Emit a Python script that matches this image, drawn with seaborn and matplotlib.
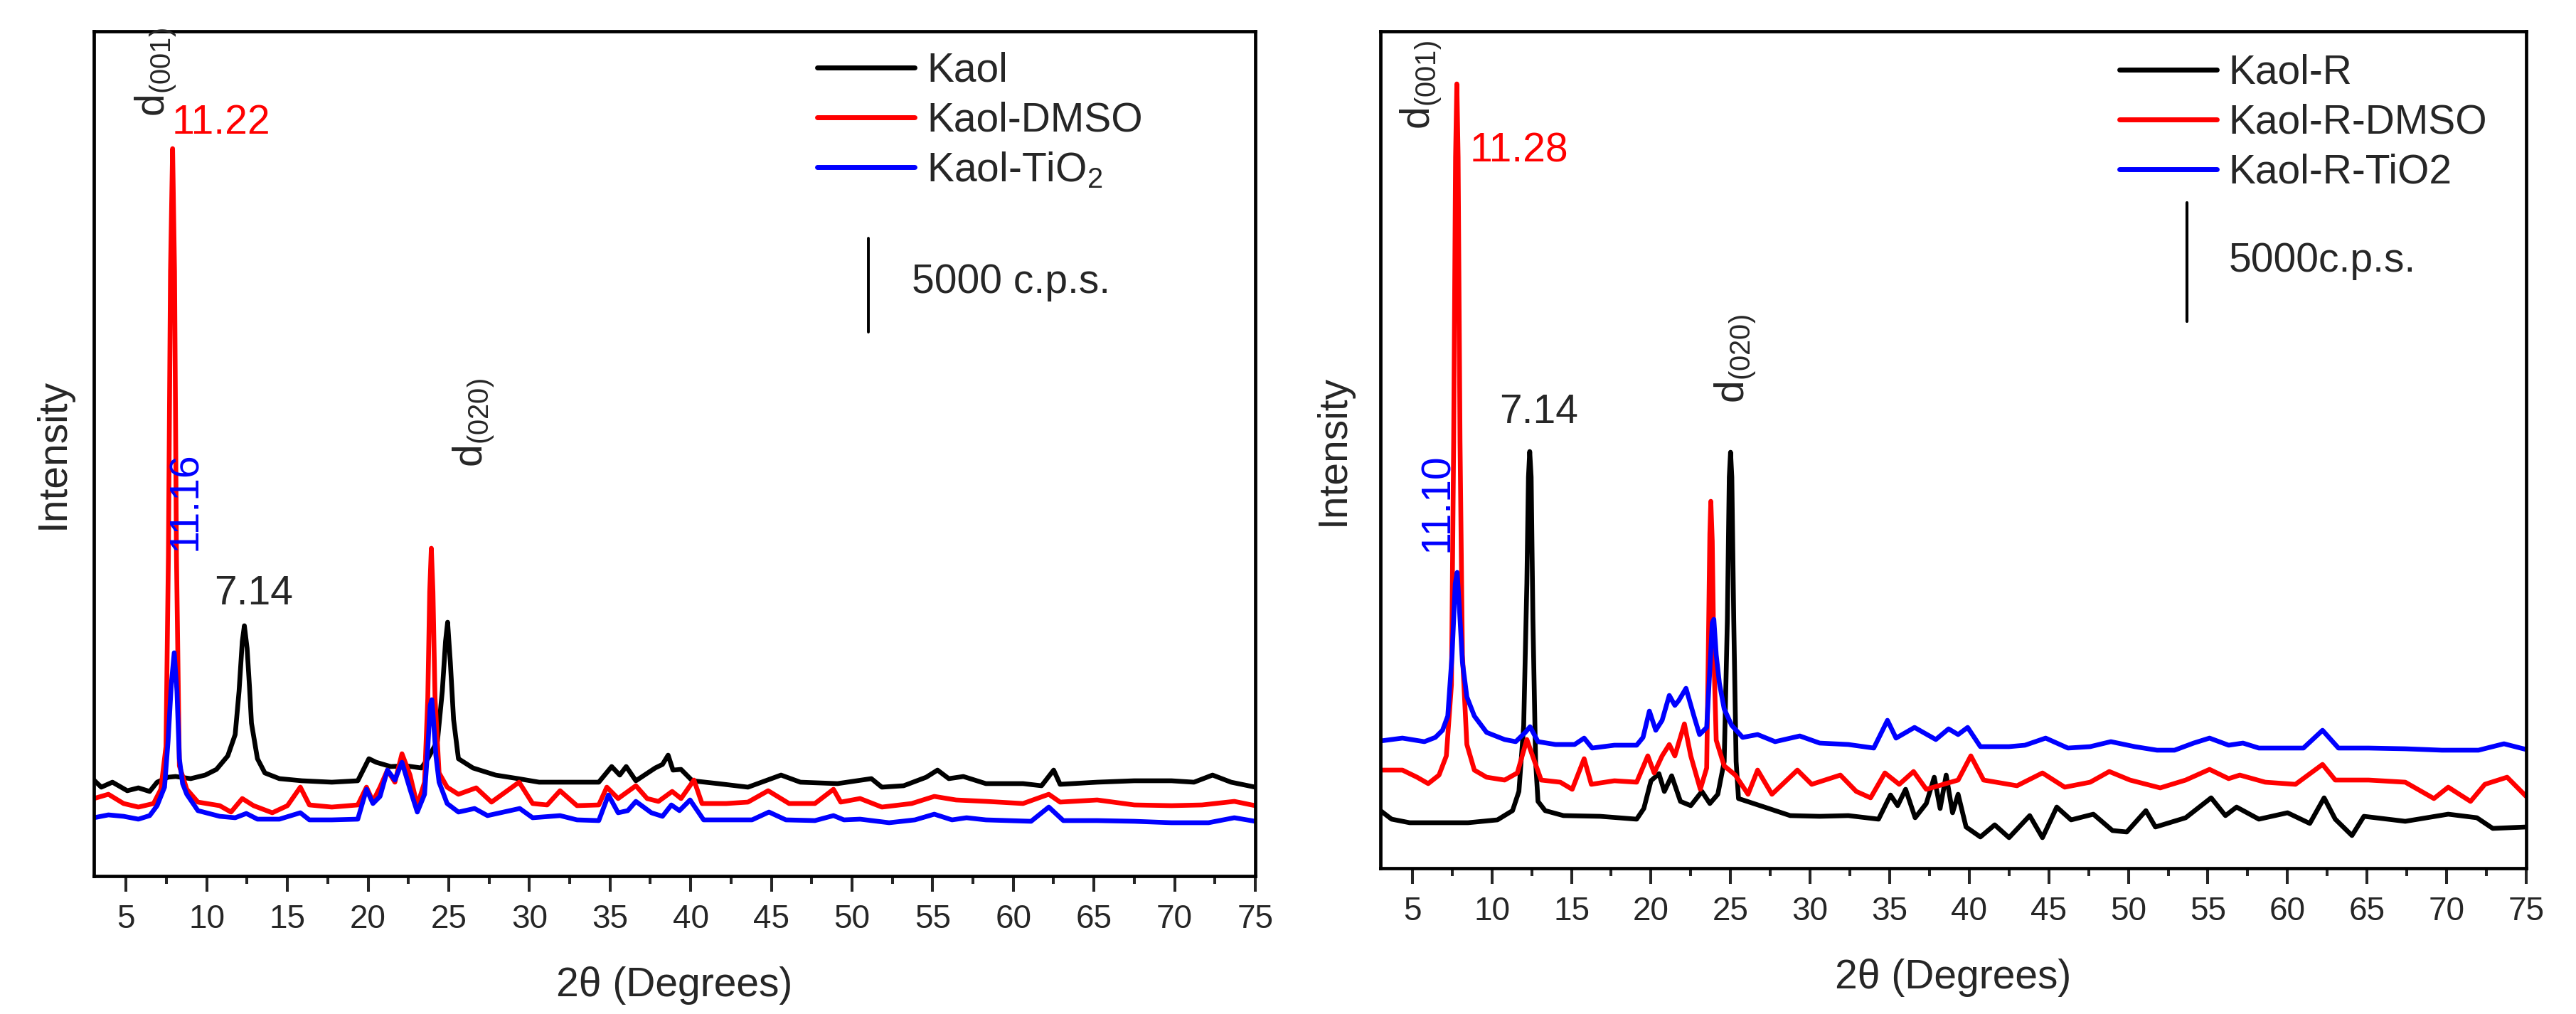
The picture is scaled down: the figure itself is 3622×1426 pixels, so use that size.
import numpy as np
import pandas as pd
import seaborn as sns
import matplotlib
matplotlib.use("Agg")
import matplotlib.pyplot as plt
from matplotlib.lines import Line2D
from matplotlib.ticker import MultipleLocator

# ---------------- data (intensity in arbitrary units) ----------------
# Left panel
kaol_x = [3.0, 3.46, 4.15, 5.07, 5.76, 6.46, 6.92, 7.6, 8.07, 9.0, 9.9, 10.6, 11.3, 11.76, 12.0, 12.2, 12.33,
          12.5, 12.65, 12.77, 13.14, 13.6, 14.5, 15.9, 17.75, 19.36, 20.05, 20.5, 21.4, 22.35, 23.3, 23.7, 24.3,
          24.6, 24.8, 24.93, 25.1, 25.3, 25.6, 26.5, 27.9, 29.3, 30.6, 32.5, 34.3, 35.1, 35.6, 36.0, 36.6, 37.8,
          38.25, 38.6, 38.9, 39.4, 40.1, 41.7, 43.55, 45.6, 46.8, 49.1, 51.2, 51.85, 53.2, 54.6, 55.3, 56.0,
          56.9, 58.3, 60.6, 61.75, 62.5, 62.9, 65.2, 67.5, 69.8, 71.2, 72.35, 73.5, 75.0]
kaol_y = [135, 125, 132, 120, 124, 119, 132, 139, 140, 137, 142, 150, 169, 199, 260, 330, 352,
          320, 265, 215, 165, 145, 137, 134, 132, 134, 165, 160, 154, 155, 152, 165, 190,
          260, 330, 357, 300, 220, 165, 152, 142, 137, 132, 132, 132, 154, 142, 154, 134, 152,
          157, 170, 149, 150, 134, 130, 125, 142, 132, 130, 137, 125, 127, 139, 149, 137,
          140, 130, 130, 127, 149, 129, 132, 134, 134, 132, 142, 132, 125]

kaol_dmso_x = [3.0, 3.9, 4.84, 5.76, 6.7, 7.15, 7.47, 7.62, 7.75, 7.88, 8.0, 8.12, 8.3, 8.76, 9.45, 10.8, 11.5,
               12.2, 12.9, 14.06, 15.0, 15.8, 16.36, 17.75, 19.36, 19.9, 20.3, 20.74, 21.2, 21.66, 22.1, 22.6,
               23.05, 23.5, 23.7, 23.82, 23.92, 24.02, 24.15, 24.4, 24.9, 25.6, 26.7, 27.65, 29.36, 30.2, 31.1,
               31.9, 32.95, 34.3, 34.8, 35.5, 36.6, 37.3, 38.0, 38.85, 39.4, 40.2, 40.7, 42.2, 43.55, 44.8, 46.1,
               47.7, 48.85, 49.3, 50.5, 51.85, 53.7, 55.1, 56.45, 58.3, 60.6, 62.2, 62.9, 65.2, 67.5, 69.8,
               71.7, 73.7, 75.0]
kaol_dmso_y = [109, 115, 102, 97, 102, 122, 182, 450, 850, 1023, 850, 450, 155, 122, 104, 99, 90,
               109, 99, 89, 99, 125, 100, 97, 100, 125, 105, 125, 149, 132, 172, 142,
               99, 132, 250, 400, 461, 400, 250, 145, 125, 115, 124, 104, 132, 102, 100,
               120, 99, 100, 125, 109, 127, 109, 105, 119, 109, 135, 102, 102, 104, 120, 102,
               102, 122, 104, 109, 97, 102, 112, 107, 105, 102, 115, 104, 107, 100, 99,
               100, 105, 99]

kaol_tio2_x = [3.0, 3.9, 4.84, 5.76, 6.46, 6.92, 7.38, 7.6, 7.8, 7.98, 8.15, 8.3, 8.5, 8.76, 9.45, 10.8, 11.76,
               12.45, 13.14, 14.5, 15.8, 16.36, 17.75, 19.36, 19.9, 20.3, 20.74, 21.2, 21.66, 22.1, 22.6, 23.05,
               23.5, 23.7, 23.85, 23.95, 24.05, 24.2, 24.4, 24.9, 25.6, 26.6, 27.4, 29.4, 30.2, 31.9, 32.95,
               34.3, 34.9, 35.5, 36.1, 36.6, 37.56, 38.25, 38.8, 39.3, 39.96, 40.8, 42.6, 43.8, 44.85, 45.9,
               47.7, 48.85, 49.5, 50.5, 52.3, 53.9, 55.1, 56.2, 57.1, 58.3, 61.1, 62.2, 63.1, 65.2, 67.5,
               69.8, 72.1, 73.7, 75.0]
kaol_tio2_y = [82, 86, 84, 80, 85, 99, 125, 190, 270, 314, 260, 165, 130, 115, 92, 84, 82,
               88, 80, 80, 89, 79, 79, 80, 122, 102, 112, 149, 135, 160, 122, 90,
               115, 180, 240, 248, 220, 170, 132, 102, 90, 95, 85, 95, 82, 85, 79,
               78, 114, 89, 92, 105, 89, 84, 100, 92, 107, 79, 79, 79, 90, 79,
               78, 85, 79, 80, 75, 79, 87, 79, 82, 79, 77, 97, 78, 78, 77,
               75, 75, 82, 77]

# Right panel
kaolr_x = [3.0, 3.7, 4.84, 6.68, 8.5, 10.35, 11.3, 11.7, 12.0, 12.2, 12.3, 12.38, 12.47, 12.58, 12.75, 12.9,
           13.35, 14.5, 16.8, 19.1, 19.55, 20.0, 20.5, 20.84, 21.3, 21.85, 22.5, 23.2, 23.7, 24.2, 24.6, 24.8,
           24.92, 25.0, 25.08, 25.2, 25.35, 25.5, 26.45, 27.4, 28.75, 30.6, 32.4, 34.3, 35.05, 35.5, 36.0,
           36.6, 37.3, 37.8, 38.17, 38.55, 38.95, 39.3, 39.8, 40.7, 41.6, 42.5, 43.8, 44.6, 45.5, 46.4, 47.8,
           49.0, 49.9, 51.1, 51.7, 53.6, 55.2, 56.1, 56.8, 58.2, 60.0, 61.4, 62.3, 63.0, 64.05, 64.8, 67.4,
           70.1, 71.9, 72.9, 75.0]
kaolr_y = [81, 69, 64, 64, 64, 68, 81, 108, 200, 400, 550, 586, 550, 350, 150, 94,
           81, 74, 73, 69, 84, 123, 133, 108, 130, 94, 88, 108, 91, 104, 150, 350,
           550, 585, 550, 350, 150, 98, 91, 84, 74, 73, 74, 69, 103, 88, 111,
           71, 91, 128, 84, 131, 78, 104, 58, 44, 61, 43, 74, 43, 86, 68, 76,
           53, 51, 81, 58, 71, 99, 74, 86, 69, 78, 63, 99, 69, 46, 73, 66,
           76, 71, 56, 58]

kaolr_dmso_x = [3.0, 4.38, 5.3, 6.0, 6.68, 7.14, 7.46, 7.6, 7.72, 7.8, 7.88, 8.0, 8.15, 8.43, 8.9, 9.67, 10.8,
                11.6, 12.2, 12.56, 13.1, 14.3, 15.05, 15.8, 16.25, 17.7, 19.1, 19.8, 20.2, 20.7, 21.15, 21.5,
                22.1, 22.5, 23.1, 23.5, 23.6, 23.7, 23.76, 23.85, 23.95, 24.1, 24.6, 25.3, 26.1, 26.7, 27.6,
                29.2, 30.1, 31.9, 32.9, 33.8, 34.7, 35.6, 36.5, 37.3, 39.3, 40.1, 40.9, 43.0, 44.6, 46.0,
                47.6, 48.8, 50.1, 52.0, 53.6, 55.1, 56.3, 57.0, 58.6, 60.5, 62.2, 63.0, 65.1, 67.4, 69.2,
                70.1, 71.5, 72.4, 73.8, 75.0]
kaolr_dmso_y = [138, 138, 128, 119, 131, 158, 258, 600, 1000, 1103, 1000, 600, 300, 174, 138, 128, 124,
                134, 181, 158, 124, 121, 111, 154, 118, 123, 121, 158, 134, 158, 174, 158,
                203, 158, 111, 141, 300, 470, 516, 460, 300, 180, 144, 131, 104, 138, 104,
                138, 118, 131, 108, 99, 134, 118, 136, 111, 124, 158, 124, 116, 134, 114,
                121, 136, 124, 113, 124, 139, 126, 131, 121, 118, 146, 124, 124, 121, 98,
                114, 94, 118, 128, 101]

kaolr_tio2_x = [3.0, 4.38, 5.76, 6.45, 6.9, 7.23, 7.5, 7.7, 7.82, 7.95, 8.15, 8.43, 8.9, 9.67, 10.8, 11.5,
                12.1, 12.4, 12.9, 14.0, 15.2, 15.8, 16.3, 17.7, 19.1, 19.5, 19.9, 20.3, 20.7, 21.15, 21.5,
                21.75, 22.2, 22.7, 23.05, 23.5, 23.7, 23.85, 23.95, 24.1, 24.3, 24.6, 25.07, 25.76, 26.7,
                27.8, 29.35, 30.6, 32.4, 34.0, 34.86, 35.4, 36.56, 37.9, 38.7, 39.3, 39.9, 40.7, 42.5, 43.5,
                44.8, 46.2, 47.6, 48.9, 50.4, 51.8, 52.9, 54.1, 55.1, 56.3, 57.2, 58.2, 61.0, 62.2, 63.2,
                65.1, 67.4, 69.7, 72.0, 73.6, 75.0]
kaolr_tio2_y = [179, 183, 178, 184, 194, 214, 300, 400, 416, 370, 290, 241, 214, 191, 181, 178,
                191, 199, 178, 174, 174, 183, 169, 173, 173, 184, 221, 194, 208, 243, 229,
                236, 253, 214, 188, 198, 280, 345, 350, 300, 260, 224, 201, 184, 188,
                178, 186, 176, 174, 169, 208, 183, 198, 181, 196, 188, 198, 171, 171, 173,
                183, 169, 171, 178, 171, 166, 166, 176, 183, 173, 176, 169, 169, 194, 169,
                169, 168, 166, 166, 175, 167]

left_labels = ["Kaol", "Kaol-DMSO", "Kaol-TiO$\\mathregular{_2}$"]
right_labels = ["Kaol-R", "Kaol-R-DMSO", "Kaol-R-TiO2"]
colors = ["#000000", "#FF0000", "#0000FF"]
xticks = [5, 10, 15, 20, 25, 30, 35, 40, 45, 50, 55, 60, 65, 70, 75]

# scale bars (5000 c.p.s.) in the same intensity units
left_bar = [765, 897]
right_bar = [769, 936]

# ---------------- style ----------------
sns.set_style("white")
plt.rcParams["font.family"] = ["Liberation Sans", "DejaVu Sans"]
plt.rcParams["mathtext.fontset"] = "custom"
plt.rcParams["mathtext.rm"] = "Liberation Sans"
plt.rcParams["mathtext.it"] = "Liberation Sans"

W, H = 3623, 1426
fig = plt.figure(figsize=(W / 100, H / 100), dpi=100)
axL = fig.add_axes([132 / W, 1 - 1232 / H, (1765 - 132) / W, (1232 - 44) / H])
axR = fig.add_axes([1941 / W, 1 - 1221 / H, (3552 - 1941) / W, (1221 - 44) / H])


def make_df(xs, ys, labels):
    frames = []
    for x, y, lab in zip(xs, ys, labels):
        frames.append(pd.DataFrame({"two_theta": x, "intensity": y, "sample": lab}))
    return pd.concat(frames, ignore_index=True)


dfL = make_df([kaol_x, kaol_dmso_x, kaol_tio2_x], [kaol_y, kaol_dmso_y, kaol_tio2_y], left_labels)
dfR = make_df([kaolr_x, kaolr_dmso_x, kaolr_tio2_x], [kaolr_y, kaolr_dmso_y, kaolr_tio2_y], right_labels)

FS = 41
TICKFS = 33

for ax, df, labels, ylim in [(axL, dfL, left_labels, 1188), (axR, dfR, right_labels, 1177)]:
    sns.lineplot(data=df, x="two_theta", y="intensity", hue="sample", hue_order=labels,
                 palette=colors, estimator=None, sort=False, lw=4.8, legend=False, ax=ax)
    ax.set_xlim(3, 75)
    ax.set_ylim(0, ylim)
    ax.set_xticks(xticks)
    ax.xaxis.set_minor_locator(MultipleLocator(2.5))
    ax.tick_params(axis="x", which="major", direction="out", length=16, width=2.9,
                   labelsize=TICKFS, pad=12, bottom=True, top=False)
    ax.tick_params(axis="x", which="minor", direction="out", length=8, width=2.9, bottom=True, top=False)
    ax.tick_params(axis="y", left=False, right=False, labelleft=False)
    for s in ax.spines.values():
        s.set_visible(True)
        s.set_linewidth(3.4)
        s.set_color("black")
    ax.set_xlabel("2θ (Degrees)", fontsize=FS, labelpad=32)
    handles = [Line2D([], [], color=c, lw=5) for c in colors]
    ax.legend(handles, labels, fontsize=FS, frameon=False, loc="upper left",
              handlelength=2.4, handletextpad=0.3, labelspacing=0.28, borderpad=0, borderaxespad=0,
              bbox_to_anchor=(0.623, 0.976) if ax is axL else (0.645, 0.973))

axL.set_ylabel("Intensity", fontsize=FS, labelpad=22)
axR.set_ylabel("Intensity", fontsize=FS, labelpad=28)

# scale bars + text
axL.plot([51.0, 51.0], left_bar, color="black", lw=2.8)
axL.text(53.7, 820, "5000 c.p.s.", fontsize=FS, ha="left", va="baseline")
axR.plot([53.7, 53.7], right_bar, color="black", lw=3.0)
axR.text(56.3, 839, "5000c.p.s.", fontsize=FS, ha="left", va="baseline")

# annotations left
axL.text(6.84, 1130, "$\\mathregular{d_{(001)}}$", fontsize=FS, rotation=90, ha="center", va="center")
axL.text(7.85, 1044, "11.22", fontsize=FS, color="#FF0000", ha="left", va="baseline")
axL.text(8.69, 527, "11.16", fontsize=FS, color="#0000FF", rotation=90, ha="center", va="center")
axL.text(10.45, 382, "7.14", fontsize=FS, ha="left", va="baseline")
axL.text(26.55, 637, "$\\mathregular{d_{(020)}}$", fontsize=FS, rotation=90, ha="center", va="center")

# annotations right
axR.text(5.55, 1101, "$\\mathregular{d_{(001)}}$", fontsize=FS, rotation=90, ha="center", va="center")
axR.text(8.63, 994, "11.28", fontsize=FS, color="#FF0000", ha="left", va="baseline")
axR.text(6.58, 514, "11.10", fontsize=FS, color="#0000FF", rotation=90, ha="center", va="center")
axR.text(10.47, 626, "7.14", fontsize=FS, ha="left", va="baseline")
axR.text(25.31, 716, "$\\mathregular{d_{(020)}}$", fontsize=FS, rotation=90, ha="center", va="center")

fig.savefig("out.png", dpi=100, facecolor="white")
